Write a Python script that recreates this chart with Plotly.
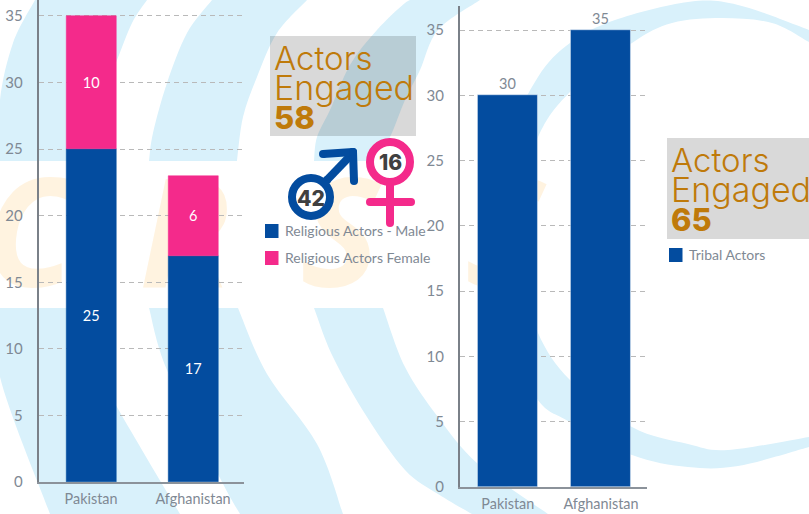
import plotly.graph_objects as go

W, H = 809, 514

categories = ["Pakistan", "Afghanistan"]
male_values = [25, 17]
female_values = [10, 6]
tribal_values = [30, 35]
male_name = "Religious Actors - Male"
female_name = "Religious Actors Female"
tribal_name = "Tribal Actors"
y_ticks = [0, 5, 10, 15, 20, 25, 30, 35]
left_total = "58"
right_total = "65"
male_total = "42"
female_total = "16"
watermark = ["C", "R", "S", "S"]

BLUE = "#034c9f"
PINK = "#f42a8b"
GREY = "#7f8994"
BAND = "#d9f1fb"
ORANGE = "#fff3e0"
GOLD = "#bf7a0a"
FONT = "Lato"
HEAD = "Inter"


def smooth(pts):
    """Catmull-Rom through pts, as SVG curve segments (no leading M)."""
    out = []
    n = len(pts)
    for i in range(n - 1):
        p0 = pts[max(i - 1, 0)]
        p1 = pts[i]
        p2 = pts[i + 1]
        p3 = pts[min(i + 2, n - 1)]
        c1 = (p1[0] + (p2[0] - p0[0]) / 6, p1[1] + (p2[1] - p0[1]) / 6)
        c2 = (p2[0] - (p3[0] - p1[0]) / 6, p2[1] - (p3[1] - p1[1]) / 6)
        out.append(f"C{c1[0]:.1f},{c1[1]:.1f} {c2[0]:.1f},{c2[1]:.1f} {p2[0]:.1f},{p2[1]:.1f}")
    return " ".join(out)


def band(a, b):
    """Closed shape from edge a, then along edge b reversed."""
    b = b[::-1]
    return (f"M{a[0][0]},{a[0][1]} " + smooth(a) +
            f" L{b[0][0]},{b[0][1]} " + smooth(b) + " Z")


bands = [
    # upper halves of the arcs
    band([(35, 0), (13, 43), (0, 100), (0, 161)], [(147, 0), (132, 23), (117, 60), (100, 100), (90, 133), (85, 161)]),
    band([(212, 0), (187, 33), (167, 83), (153, 133), (149, 161)], [(307, 0), (277, 33), (257, 77), (243, 117), (237, 161)]),
    band([(415, 0), (405, 3), (377, 30), (350, 65), (330, 110), (317, 137), (314, 161)], [(480, 0), (438, 30), (420, 70), (405, 100), (390, 137), (375, 161)]),
    # lower halves
    band([(0, 308), (0, 377), (50, 514)], [(85, 308), (90, 354), (117, 407), (180, 514)]),
    band([(149, 308), (167, 370), (220, 478), (240, 514)], [(238, 308), (267, 374), (317, 444), (343, 514)]),
    band([(314, 308), (333, 357), (367, 417), (405, 470), (438, 494), (472, 514)],
         [(383, 308), (405, 367), (438, 417), (478, 464), (548, 514)]),
    # big ring on the right
    band([(809, 30), (738, 5), (688, 2), (615, 20), (570, 43), (538, 77), (510, 140), (500, 240), (510, 340), (538, 400), (570, 422), (632, 455), (688, 467), (738, 466), (809, 447)],
         [(809, 42), (772, 23), (722, 18), (672, 23), (632, 43), (570, 92), (538, 137), (515, 210), (520, 270), (538, 333), (570, 380), (632, 427), (688, 444), (728, 450), (809, 437)]),
]

fig = go.Figure()

# watermark letters: first subplot, so they stay below both bar charts
fig.add_trace(go.Scatter(
    x=[30, 185, 340, 505], y=[249, 249, 249, 249], mode="text", text=watermark,
    textposition="middle center", hoverinfo="skip", showlegend=False,
    textfont=dict(family="Open Sans", size=150, color=ORANGE, style="italic", weight=700),
    xaxis="x", yaxis="y"))

fig.add_trace(go.Bar(
    x=categories, y=male_values, name=male_name, marker=dict(color=BLUE, line=dict(color=BLUE, width=0.5)), width=0.49,
    text=male_values, textposition="inside", insidetextanchor="middle",
    textangle=0, textfont=dict(family=FONT, size=14.5, color="white"),
    xaxis="x2", yaxis="y2", showlegend=False))
fig.add_trace(go.Bar(
    x=categories, y=female_values, base=male_values, name=female_name, marker=dict(color=PINK, line=dict(color=PINK, width=0.5)), width=0.49,
    text=female_values, textposition="inside", insidetextanchor="middle",
    textangle=0, textfont=dict(family=FONT, size=14.5, color="white"),
    xaxis="x2", yaxis="y2", showlegend=False))
fig.add_trace(go.Bar(
    x=categories, y=tribal_values, name=tribal_name, marker_color=BLUE, width=0.648,
    text=tribal_values, textposition="outside", cliponaxis=False,
    textfont=dict(family=FONT, size=14.5, color=GREY),
    xaxis="x3", yaxis="y3", showlegend=False))

shapes = [dict(type="path", path=p, xref="x", yref="y", fillcolor=BAND, line_width=0, layer="below") for p in bands]


def dot(cx, cy, r, color):
    return dict(type="circle", xref="x", yref="y", x0=cx - r, x1=cx + r, y0=cy - r, y1=cy + r,
                fillcolor=color, line_width=0)


def seg(x0, y0, x1, y1, color, w):
    return [dict(type="line", xref="x", yref="y", x0=x0, y0=y0, x1=x1, y1=y1, line=dict(color=color, width=w)),
            dot(x0, y0, w / 2, color), dot(x1, y1, w / 2, color)]


# translucent grey boxes
for x0, y0, x1, y1 in [(270, 36, 416, 136), (667, 138, 809, 239)]:
    shapes.append(dict(type="rect", xref="x", yref="y", x0=x0, x1=x1, y0=y0, y1=y1,
                       fillcolor="rgba(0,0,0,0.15)", line_width=0, layer="below"))

# male symbol
shapes += seg(327, 180, 352, 154, BLUE, 8)
shapes += seg(323, 154, 353, 152, BLUE, 8)
shapes += seg(353, 152, 354, 181, BLUE, 8)
shapes.append(dict(type="circle", xref="x", yref="y", x0=292, x1=330, y0=178, y1=216,
                   fillcolor="white", line=dict(color=BLUE, width=8)))
# female symbol
shapes += seg(390, 186, 390, 223, PINK, 8)
shapes += seg(370, 202, 411, 202, PINK, 8)
shapes.append(dict(type="circle", xref="x", yref="y", x0=370, x1=410, y0=142, y1=182,
                   fillcolor="white", line=dict(color=PINK, width=8)))

annotations = []


def label(x, y, text, size, color, weight=400, family=HEAD, anchor="left"):
    annotations.append(dict(xref="x", yref="y", x=x, y=y, text=text, showarrow=False, xanchor=anchor,
                            yanchor="middle", xshift=0, borderpad=0, borderwidth=0,
                            font=dict(family=family, size=size, color=color, weight=weight)))


for bx, by, total in [(274, 58, left_total), (671, 160, right_total)]:
    label(bx, by, "Actors", 33, GOLD, 300)
    label(bx, by + 29, "Engaged", 34, GOLD, 300)
    label(bx, by + 59, total, 31, GOLD, 800)
label(311, 198, male_total, 21, "#404040", 800, anchor="center")
label(390, 162, female_total, 21, "#404040", 800, anchor="center")

# key entries
for sx, sy, color, name in [(265, 224, BLUE, male_name), (265, 251, PINK, female_name), (669, 248, BLUE, tribal_name)]:
    shapes.append(dict(type="rect", xref="x", yref="y", x0=sx, x1=sx + 13.5, y0=sy, y1=sy + 14,
                       fillcolor=color, line_width=0))
    label(sx + 19.5, sy + 6, name, 14, GREY, 400, FONT)

layout_axis = dict(showgrid=False, zeroline=False, showticklabels=False, ticks="", showline=False, fixedrange=True)


def xaxis(x0, x1, r0, r1, lw, anchor):
    return dict(domain=[x0 / W, x1 / W], range=[r0, r1], type="category", anchor=anchor,
                categoryorder="array", categoryarray=categories,
                showline=True, linecolor="#8b929a", linewidth=lw, showgrid=False, ticks="",
                ticklabelstandoff=3, tickfont=dict(family=FONT, size=14.4, color=GREY), fixedrange=True)


def yaxis(y_bottom, y_top, y_top_val, lw, anchor):
    return dict(domain=[(H - y_bottom) / H, 1 - y_top / H], range=[0, y_top_val], tickmode="array", tickvals=y_ticks,
                showline=True, linecolor="#7a8088", linewidth=lw, zeroline=False, anchor=anchor,
                showgrid=True, gridcolor="#b9b9b9", griddash="5px,4px", gridwidth=1, ticks="",
                ticklabelstandoff=11, tickfont=dict(family=FONT, size=15, color=GREY), fixedrange=True)


fig.update_layout(
    width=W, height=H + 8, margin=dict(l=0, r=0, t=0, b=0), autosize=False,
    paper_bgcolor="white", plot_bgcolor="rgba(0,0,0,0)",
    barmode="overlay", bargap=0, showlegend=False,
    xaxis=dict(range=[0, W], domain=[0, 1], anchor="y", **layout_axis),
    yaxis=dict(range=[H, 0], domain=[0, 1], anchor="x", **layout_axis),
    xaxis2=xaxis(38.5, 243.5, -0.515, 1.495, 2, "y2"),
    yaxis2=yaxis(482, 0, 36.2, 1.5, "x2"),
    xaxis3=xaxis(459.7, 647, -0.516, 1.494, 1.5, "y3"),
    yaxis3=yaxis(487, 6, 36.84, 1.5, "x3"),
    shapes=shapes, annotations=annotations,
)

fig.write_html("out.html", config=dict(displayModeBar=False),
               post_script="document.body.style.margin='0';")
